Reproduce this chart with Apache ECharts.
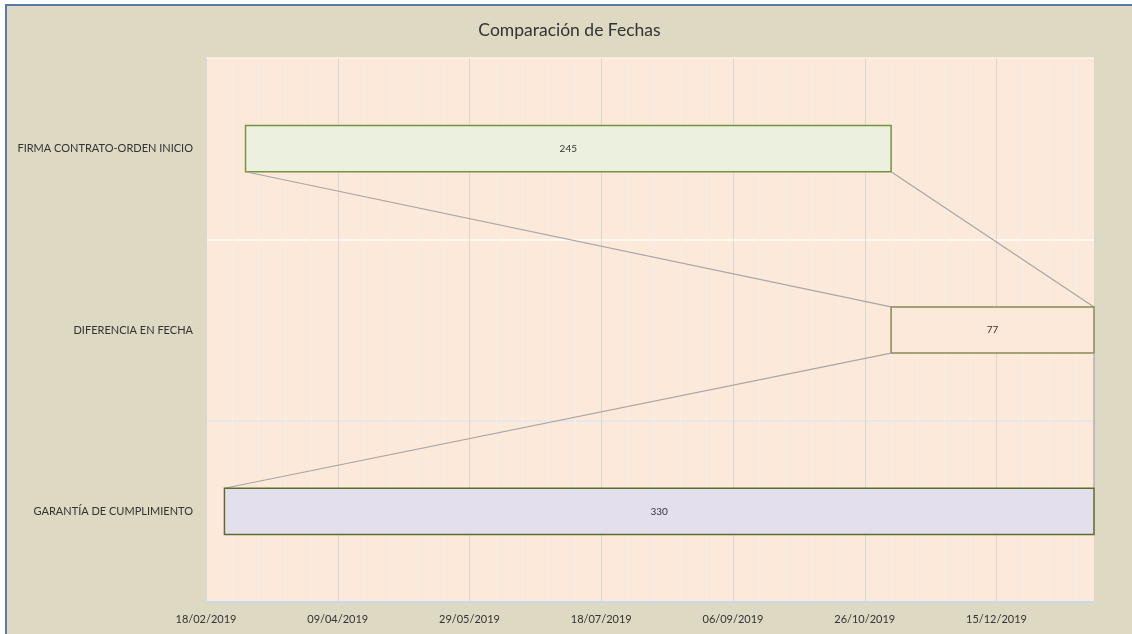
<!DOCTYPE html>
<html>
<head>
<meta charset="utf-8">
<title>Comparación de Fechas</title>
<script src="https://cdn.jsdelivr.net/npm/echarts@6/dist/echarts.min.js"></script>
<style>
  html, body { margin: 0; padding: 0; background: #ffffff; overflow: hidden; }
  #frame {
    position: absolute; left: 5px; top: 4px; width: 1127px; height: 630px;
    border-left: 2px solid #5a7aab; border-top: 2px solid #5a7aab;
    background: #ddd9c3;
  }
  #chart { width: 1125px; height: 628px; }
</style>
</head>
<body>
<div id="frame"><div id="chart"></div></div>
<script>
// datos del grafico
const categories = ['FIRMA CONTRATO-ORDEN INICIO', 'DIFERENCIA EN FECHA', 'GARANTÍA DE CUMPLIMIENTO'];
const startDates = ['05/03/2019', '05/11/2019', '25/02/2019'];
const durations = [245, 77, 330];
const axisStart = '18/02/2019';
const axisEnd = '21/01/2020';
const tickDays = 50;
const minorDays = 10;

const fills = ['#ebf1de', '#fde9d9', '#e4dfec'];
const borders = ['#76923c', '#868a55', '#5b6e2e'];

// fecha dd/mm/yyyy -> dias desde el inicio del eje
function parseDate(s) {
  let p = s.split('/');
  return Date.UTC(+p[2], +p[1] - 1, +p[0]);
}
const base = parseDate(axisStart);
const DAY = 86400000;
function toDays(s) {
  return Math.round((parseDate(s) - base) / DAY);
}
function fmtDate(d) {
  let dt = new Date(base + d * DAY);
  let dd = String(dt.getUTCDate()).padStart(2, '0');
  let mm = String(dt.getUTCMonth() + 1).padStart(2, '0');
  return dd + '/' + mm + '/' + dt.getUTCFullYear();
}

let starts = startDates.map(toDays);
let ends = starts.map((s, i) => s + durations[i]);
let maxDay = toDays(axisEnd);

let myChart = echarts.init(document.getElementById('chart'));

function renderItem(params, api) {
  let i = api.value(0);
  let bandH = api.size([0, 1])[1];
  let h = bandH * 0.255;
  let p0 = api.coord([starts[i], i]);
  let p1 = api.coord([ends[i], i]);
  let top = p0[1] - h / 2;
  let children = [];
  if (i > 0) {
    let q0 = api.coord([starts[i - 1], i - 1]);
    let q1 = api.coord([ends[i - 1], i - 1]);
    let prevBottom = q0[1] + h / 2;
    children.push({
      type: 'line',
      shape: { x1: q0[0], y1: prevBottom, x2: p0[0], y2: top },
      style: { stroke: '#a6a6a6', lineWidth: 1.2 }
    });
    children.push({
      type: 'line',
      shape: { x1: q1[0], y1: prevBottom, x2: p1[0], y2: top },
      style: { stroke: '#a6a6a6', lineWidth: 1.2 }
    });
  }
  children.push({
    type: 'rect',
    shape: { x: p0[0], y: top, width: p1[0] - p0[0], height: h },
    style: { fill: fills[i], stroke: borders[i], lineWidth: 1.5 }
  });
  children.push({
    type: 'text',
    style: {
      text: String(durations[i]),
      x: (p0[0] + p1[0]) / 2,
      y: p0[1],
      align: 'center',
      verticalAlign: 'middle',
      fill: '#333333',
      font: '10px Lato'
    }
  });
  return { type: 'group', children: children };
}

let option = {
  backgroundColor: '#ddd9c3',
  textStyle: { fontFamily: 'Lato' },
  title: {
    text: 'Comparación de Fechas',
    left: 'center',
    top: 15,
    padding: 0,
    textStyle: { fontFamily: 'Lato', fontSize: 17.5, fontWeight: 'normal', color: '#333333' }
  },
  grid: {
    left: 199, right: 38, top: 52, bottom: 32,
    show: true, backgroundColor: '#fde9d9', borderWidth: 0
  },
  xAxis: [{
    type: 'value',
    min: 0,
    max: maxDay,
    interval: tickDays,
    z: 1,
    axisLine: { show: true, lineStyle: { color: '#c6d9f1', width: 2 } },
    axisTick: { show: false },
    axisLabel: {
      showMaxLabel: false,
      margin: 12,
      color: '#333333',
      fontSize: 11,
      fontFamily: 'Lato',
      formatter: (v) => fmtDate(v)
    },
    splitLine: { show: true, lineStyle: { color: '#d9d6d3', width: 1 } }
  }, {
    type: 'value',
    min: 0,
    max: maxDay,
    interval: minorDays,
    position: 'bottom',
    z: 0,
    axisLine: { show: false },
    axisTick: { show: false },
    axisLabel: { show: false },
    splitLine: { show: true, lineStyle: { color: '#f5efea', width: 1 } }
  }],
  yAxis: {
    type: 'category',
    data: categories,
    inverse: true,
    axisLine: { show: false },
    axisTick: { show: false },
    axisLabel: { margin: 13, color: '#333333', fontSize: 11, fontFamily: 'Lato' },
    splitLine: { show: true, lineStyle: { color: ['#fdf3ea', '#ffffff', '#dce6f2', '#c6d9f1'], width: 1.5 } }
  },
  series: [{
    type: 'custom',
    xAxisIndex: 0,
    renderItem: renderItem,
    encode: { y: 0, x: 1 },
    data: categories.map((c, i) => [i, starts[i], ends[i]]),
    z: 3
  }]
};

myChart.setOption(option);
</script>
</body>
</html>
